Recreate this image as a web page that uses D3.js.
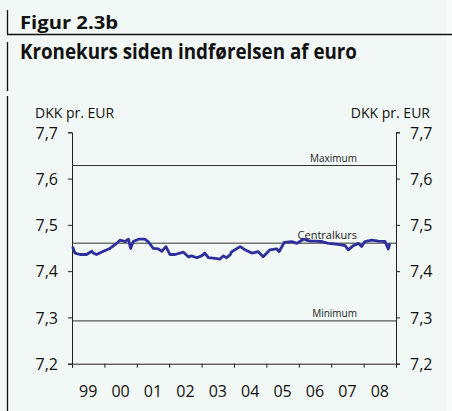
<!DOCTYPE html>
<html><head><meta charset="utf-8">
<script src="https://cdn.jsdelivr.net/npm/d3@7"></script>
<style>html,body{margin:0;padding:0;background:#fff;} svg{display:block;}</style>
</head><body>
<script>
// ---- data ----
const title = "Figur 2.3b";
const subtitle = "Kronekurs siden indførelsen af euro";
const unitLabel = "DKK pr. EUR";
const yTicks = [7.2, 7.3, 7.4, 7.5, 7.6, 7.7];
const yearLabels = ["99","00","01","02","03","04","05","06","07","08"];
const refNames = ["Maximum","Centralkurs","Minimum"];
const refValues = [7.6282, 7.4604, 7.2925];
const dates = [1999.02,1999.09,1999.25,1999.45,1999.61,1999.66,1999.76,1999.97,2000.17,2000.38,2000.48,2000.64,2000.74,2000.81,2000.89,2001.05,2001.25,2001.35,2001.51,2001.66,2001.77,2001.90,2002.02,2002.18,2002.44,2002.59,2002.69,2002.85,2003.00,2003.10,2003.21,2003.36,2003.57,2003.67,2003.77,2003.88,2003.93,2004.19,2004.34,2004.55,2004.75,2004.90,2005.11,2005.32,2005.39,2005.55,2005.78,2005.94,2006.14,2006.35,2006.50,2006.71,2006.91,2007.22,2007.43,2007.53,2007.68,2007.84,2007.94,2008.04,2008.25,2008.45,2008.66,2008.76,2008.81];
const rates = [7.453,7.439,7.436,7.436,7.443,7.439,7.436,7.443,7.449,7.460,7.467,7.464,7.469,7.449,7.464,7.469,7.469,7.464,7.449,7.448,7.443,7.453,7.436,7.436,7.441,7.431,7.433,7.429,7.433,7.439,7.429,7.428,7.426,7.433,7.429,7.435,7.442,7.453,7.446,7.439,7.442,7.431,7.446,7.448,7.442,7.462,7.464,7.460,7.469,7.465,7.465,7.464,7.460,7.458,7.455,7.446,7.455,7.460,7.453,7.464,7.467,7.465,7.464,7.448,7.460];

// ---- layout ----
const W = 452, H = 411;
const L = 72, R = 396, T = 132.3, B = 363.7;
const font = "'Open Sans', 'Noto Sans', sans-serif";

const svg = d3.select("body").append("svg").attr("width", W).attr("height", H);
svg.append("rect").attr("width", 446).attr("height", H).attr("fill", "#f1f8f5");
svg.append("rect").attr("x", 446).attr("width", 6).attr("height", H).attr("fill", "#f8fbfa");

// frame lines
svg.append("line").attr("x1",7.5).attr("x2",7.5).attr("y1",10).attr("y2",34).attr("stroke","#111").attr("stroke-width",1.3);
svg.append("line").attr("x1",7).attr("x2",452).attr("y1",34.5).attr("y2",34.5).attr("stroke","#111").attr("stroke-width",1.3);
svg.append("line").attr("x1",7.5).attr("x2",7.5).attr("y1",42).attr("y2",91).attr("stroke","#111").attr("stroke-width",1.3);
svg.append("line").attr("x1",7.5).attr("x2",7.5).attr("y1",96).attr("y2",H).attr("stroke","#111").attr("stroke-width",1.3);

svg.append("text").attr("x",20).attr("y",29).text(title)
  .attr("font-family",font).attr("font-weight","bold").attr("font-size",18).attr("fill","#111")
  .attr("textLength",98).attr("lengthAdjust","spacingAndGlyphs");
svg.append("text").attr("x",20).attr("y",59).text(subtitle)
  .attr("font-family",font).attr("font-weight","bold").attr("font-size",20.5).attr("fill","#111")
  .attr("textLength",337).attr("lengthAdjust","spacingAndGlyphs");

// scales
const x = d3.scaleLinear().domain([1999, 2009]).range([L, R]);
const y = d3.scaleLinear().domain([7.2, 7.7]).range([B, T]);

// axes
const yFmt = d => d3.format(".1f")(d).replace(".", ",");
const gl = svg.append("g").attr("transform",`translate(${L},0)`)
  .call(d3.axisLeft(y).tickValues(yTicks).tickSize(4).tickPadding(10).tickFormat(yFmt));
const gr = svg.append("g").attr("transform",`translate(${R},0)`)
  .call(d3.axisRight(y).tickValues(yTicks).tickSize(4).tickPadding(10).tickFormat(yFmt));
const yearTicks = d3.range(1999, 2010);
const gb = svg.append("g").attr("transform",`translate(0,${B})`)
  .call(d3.axisBottom(x).tickValues(yearTicks).tickSize(4).tickFormat(""));
[gl, gr, gb].forEach(g => {
  g.select(".domain").attr("stroke","#222").attr("stroke-width",1);
  g.selectAll(".tick line").attr("stroke","#222");
  g.selectAll("text").attr("font-family",font).attr("font-size",16).attr("fill","#111");
});
gl.selectAll(".tick text").attr("dy","0.36em");
gr.selectAll(".tick text").attr("dy","0.36em");

svg.append("g").selectAll("text").data(yearLabels).join("text")
  .attr("x",(d,i)=>x(1999+i+0.5)).attr("y",397).attr("text-anchor","middle")
  .attr("font-family",font).attr("font-size",16).attr("fill","#111").text(d=>d);

// unit labels
svg.append("text").attr("x",35).attr("y",118).text(unitLabel)
  .attr("font-family",font).attr("font-size",14).attr("fill","#111");
svg.append("text").attr("x",430).attr("y",118).attr("text-anchor","end").text(unitLabel)
  .attr("font-family",font).attr("font-size",14).attr("fill","#111");

// reference lines
const refs = refNames.map((n,i)=>({n, v: refValues[i]}));
svg.append("g").selectAll("line").data(refs).join("line")
  .attr("x1",L).attr("x2",R).attr("y1",d=>y(d.v)).attr("y2",d=>y(d.v))
  .attr("stroke","#333").attr("stroke-width",1);
svg.append("g").selectAll("text").data(refs).join("text")
  .attr("x",357).attr("y",d=>y(d.v)-4).attr("text-anchor","end")
  .attr("font-family",font).attr("font-size",d=>d.n==="Centralkurs"?11:10).attr("fill","#222")
  .text(d=>d.n);

// series
const pts = dates.map((d,i)=>[d, rates[i]]);
svg.append("path").datum(pts)
  .attr("fill","none").attr("stroke","#2e2e9c").attr("stroke-width",2.8).attr("stroke-linejoin","round")
  .attr("d", d3.line().x(d=>x(d[0])).y(d=>y(d[1])));
</script>
</body></html>
